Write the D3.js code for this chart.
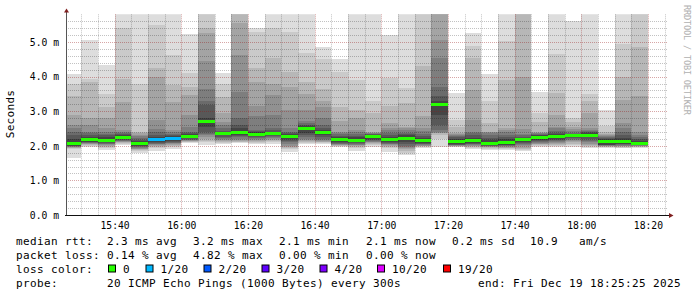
<!DOCTYPE html>
<html><head><meta charset="utf-8">
<script src="https://cdn.jsdelivr.net/npm/d3@7"></script>
<style>html,body{margin:0;padding:0;background:#fff}svg{display:block}</style>
</head><body><svg id="c" width="697" height="297"></svg>
<script>
// ---------- DATA ----------
const day = "2025-12-19";
const rangeStart = "15:25:25";
const rangeEnd = "18:25:25";
// 5-minute slots (start time of each slot)
const slots = ["15:25","15:30","15:35","15:40","15:45","15:50","15:55","16:00","16:05","16:10","16:15","16:20",
  "16:25","16:30","16:35","16:40","16:45","16:50","16:55","17:00","17:05","17:10","17:15","17:20",
  "17:25","17:30","17:35","17:40","17:45","17:50","17:55","18:00","18:05","18:10","18:15"];
// median rtt (ms) per slot
const medianRtt = [2.06,2.17,2.16,2.23,2.08,2.18,2.20,2.27,2.71,2.35,2.37,2.33,2.35,2.27,2.51,2.39,2.17,2.15,
  2.26,2.17,2.22,2.15,3.20,2.13,2.15,2.07,2.10,2.17,2.25,2.27,2.29,2.31,2.12,2.13,2.08];
// lost pings out of 20 per slot
const lostPings = [0,0,0,0,0,1,1,0,0,0,0,0,0,0,0,0,0,0,0,0,0,0,0,0,0,0,0,0,0,0,0,0,0,0,0];
// 20 sorted ping rtts (ms) per slot
const pings = [
  [1.66,1.9,1.93,1.95,1.96,1.97,1.98,1.99,2.0,2.02,2.1,2.2,2.3,2.4,2.5,2.6,2.9,3.45,3.8,4.07],
  [1.96,2.0,2.03,2.05,2.06,2.07,2.08,2.1,2.12,2.14,2.2,2.25,2.3,2.36,2.4,2.6,2.79,3.85,3.93,5.06],
  [1.88,1.95,1.97,2.0,2.03,2.05,2.06,2.08,2.1,2.12,2.2,2.25,2.3,2.35,2.4,2.5,2.8,3.13,3.5,4.34],
  [2.02,2.06,2.08,2.1,2.12,2.13,2.15,2.17,2.19,2.2,2.26,2.3,2.33,2.37,2.4,2.45,3.28,3.93,5.4,6.2],
  [1.8,1.85,1.88,1.9,1.92,1.94,1.96,1.98,2.0,2.05,2.11,2.14,2.18,2.22,2.27,2.32,2.36,2.41,3.78,6.0],
  [1.85,1.94,1.97,2.0,2.02,2.04,2.06,2.08,2.1,2.15,2.21,2.25,2.3,2.4,2.49,2.75,3.98,4.24,5.5,6.1],
  [1.9,1.97,2.0,2.03,2.05,2.07,2.09,2.11,2.13,2.17,2.23,2.27,2.3,2.35,2.4,2.46,3.28,3.76,4.62,6.1],
  [2.09,2.1,2.12,2.13,2.15,2.16,2.18,2.2,2.22,2.25,2.29,2.33,2.36,2.4,2.55,2.9,3.47,3.71,4.11,5.23],
  [2.02,2.1,2.15,2.2,2.25,2.3,2.35,2.4,2.55,2.68,2.74,2.79,3.18,3.3,3.63,4.45,5.25,5.4,6.2,6.5],
  [2.05,2.09,2.12,2.15,2.18,2.2,2.22,2.26,2.3,2.33,2.37,2.4,2.43,2.5,2.6,2.7,2.94,3.42,3.8,4.11],
  [2.07,2.1,2.12,2.15,2.18,2.2,2.24,2.27,2.3,2.34,2.4,2.5,2.6,2.79,3.56,4.62,5.56,6.0,6.2,6.5],
  [2.05,2.09,2.12,2.15,2.17,2.2,2.22,2.25,2.28,2.31,2.35,2.4,2.43,2.46,2.87,3.15,3.85,4.24,5.3,5.41],
  [2.06,2.1,2.14,2.17,2.2,2.22,2.24,2.27,2.3,2.33,2.37,2.41,2.45,2.5,2.89,3.47,3.8,4.53,5.4,6.5],
  [1.83,1.9,1.94,1.97,2.0,2.05,2.1,2.15,2.2,2.24,2.3,2.34,2.38,2.4,2.5,3.02,3.7,4.14,5.3,6.5],
  [2.04,2.07,2.1,2.14,2.17,2.2,2.25,2.3,2.38,2.48,2.54,2.58,2.6,2.65,2.73,3.03,3.51,3.85,4.67,6.0],
  [2.04,2.07,2.1,2.12,2.14,2.17,2.2,2.25,2.3,2.36,2.42,2.46,2.5,2.6,2.79,3.12,3.3,3.63,4.5,4.86],
  [1.97,1.99,2.0,2.02,2.03,2.04,2.06,2.08,2.1,2.14,2.2,2.24,2.28,2.33,2.37,2.41,2.73,3.11,4.14,4.51],
  [1.86,1.94,1.97,1.99,2.01,2.03,2.05,2.07,2.1,2.12,2.18,2.24,2.28,2.33,2.4,2.45,2.79,3.03,3.9,6.0],
  [1.97,2.01,2.04,2.07,2.1,2.12,2.14,2.17,2.2,2.23,2.29,2.31,2.33,2.35,2.36,2.37,2.39,2.96,3.29,6.0],
  [1.83,1.93,1.97,2.0,2.02,2.04,2.06,2.08,2.1,2.14,2.2,2.25,2.3,2.38,2.45,2.5,2.67,3.15,3.95,5.19],
  [1.73,1.8,1.85,1.9,1.93,1.97,2.0,2.05,2.1,2.18,2.26,2.3,2.34,2.38,2.45,2.5,2.55,3.25,3.66,6.0],
  [1.95,1.97,1.98,1.99,2.0,2.02,2.04,2.06,2.08,2.12,2.18,2.22,2.28,2.35,2.42,2.5,2.86,4.32,6.2,6.5],
  [1.97,2.2,2.3,2.36,2.38,2.4,2.45,2.6,2.9,3.18,3.22,3.3,3.45,3.71,4.53,5.06,6.2,6.5,6.8,7.0],
  [1.96,1.97,1.98,1.99,2.0,2.01,2.02,2.03,2.05,2.1,2.16,2.2,2.25,2.28,2.32,2.34,2.36,2.55,2.75,3.54],
  [1.9,1.94,1.96,1.98,2.0,2.02,2.04,2.06,2.08,2.12,2.18,2.22,2.3,2.36,2.41,2.75,3.6,4.55,4.88,5.25],
  [1.88,1.92,1.94,1.96,1.97,1.98,1.99,2.0,2.01,2.03,2.11,2.16,2.22,2.3,2.36,2.39,2.41,2.65,3.3,4.07],
  [1.88,1.91,1.93,1.95,1.97,1.99,2.0,2.01,2.03,2.06,2.14,2.2,2.26,2.32,2.4,2.45,2.5,3.9,5.03,6.5],
  [1.85,1.88,1.92,1.95,1.98,2.01,2.04,2.07,2.1,2.14,2.2,2.23,2.26,2.3,2.34,2.49,4.0,6.0,6.3,6.5],
  [1.97,2.0,2.02,2.04,2.06,2.08,2.1,2.13,2.16,2.22,2.28,2.3,2.32,2.34,2.36,2.38,2.4,2.7,2.96,3.56],
  [1.97,2.0,2.02,2.04,2.07,2.1,2.13,2.16,2.2,2.24,2.3,2.34,2.38,2.42,2.5,2.55,2.9,3.54,4.64,6.0],
  [1.97,2.02,2.06,2.1,2.14,2.17,2.2,2.22,2.25,2.27,2.31,2.33,2.35,2.38,2.42,2.48,2.55,2.7,2.79,5.6],
  [1.93,1.97,2.0,2.03,2.06,2.1,2.15,2.2,2.24,2.28,2.34,2.37,2.4,2.43,2.46,2.5,2.94,3.3,3.49,6.0],
  [1.95,1.96,1.97,1.98,1.99,2.0,2.01,2.02,2.03,2.08,2.16,2.2,2.23,2.26,2.29,2.31,2.33,2.4,2.57,3.03],
  [1.93,1.94,1.96,1.98,1.99,2.0,2.02,2.04,2.06,2.09,2.17,2.22,2.3,2.4,2.5,2.65,3.32,4.0,4.93,6.0],
  [1.95,1.96,1.97,1.98,1.99,2.0,2.01,2.02,2.03,2.05,2.11,2.15,2.2,2.25,2.3,2.41,3.44,4.86,6.2,6.5]
];
const yTicks = [0,1,2,3,4,5];
const yTickLabels = ["0.0 m","1.0 m","2.0 m","3.0 m","4.0 m","5.0 m"];
const xTickLabels = ["15:40","16:00","16:20","16:40","17:00","17:20","17:40","18:00","18:20"];
const yAxisTitle = "Seconds";
const watermark = "RRDTOOL / TOBI OETIKER";
const lossThresholds = [0,1,2,3,4,10,19];
const lossLabels = ["0","1/20","2/20","3/20","4/20","10/20","19/20"];
const lossColors = ["#26ff00","#00b8ff","#0059ff","#5e00ff","#7e00ff","#dd00ff","#ff0000"];
const legendRtt = ["median rtt:","2.3 ms avg","3.2 ms max","2.1 ms min","2.1 ms now","0.2 ms sd","10.9","am/s"];
const legendLoss = ["packet loss:","0.14 % avg","4.82 % max","0.00 % min","0.00 % now"];
const legendColorTitle = "loss color:";
const legendProbe = ["probe:","20 ICMP Echo Pings (1000 Bytes) every 300s","end: Fri Dec 19 18:25:25 2025"];

// ---------- LAYOUT ----------
const svg = d3.select("#c");
const P = {left:66, right:666, top:14.3, bottom:215};
const parse = d3.timeParse("%Y-%m-%d %H:%M:%S");
const parseHM = s => parse(day + " " + s + ":00");
const x = d3.scaleTime().domain([parse(day+" "+rangeStart), parse(day+" "+rangeEnd)]).range([P.left, P.right]);
const y = d3.scaleLinear().domain([0,5.8]).range([P.bottom, P.top]);
const MONO = "'DejaVu Sans Mono', monospace";

svg.append("rect").attr("width",697).attr("height",297).attr("fill","#fff");
svg.append("defs").append("clipPath").attr("id","pc").append("rect")
  .attr("x",P.left).attr("y",P.top).attr("width",P.right-P.left).attr("height",P.bottom-P.top);

const plotG = svg.append("g").attr("clip-path","url(#pc)");

// smoke
const smokeG = plotG.append("g").attr("shape-rendering","crispEdges");
slots.forEach((s,i)=>{
  const t0 = parseHM(s), t1 = d3.timeMinute.offset(t0,5);
  const vals = pings[i].slice().sort(d3.ascending);
  const n = vals.length, half = n/2;
  for (let b=1; b<=Math.floor(half); b++){
    const c = Math.floor(190/half*(half-b))+50;
    const lo = vals[b-1], hi = vals[n-b];
    smokeG.append("rect")
      .attr("x",x(t0)).attr("width",x(t1)-x(t0))
      .attr("y",y(hi)).attr("height",Math.max(0,y(lo)-y(hi)))
      .attr("fill",d3.rgb(c,c,c));
  }
});

// grid (drawn over smoke)
const gridG = svg.append("g");
const minorY = d3.range(1,29).map(k=>k*0.2).filter(v=>Math.abs(v-Math.round(v))>1e-6);
gridG.selectAll(".hy").data(minorY).join("line")
  .attr("x1",P.left).attr("x2",P.right+2).attr("y1",d=>Math.round(y(d))+0.5).attr("y2",d=>Math.round(y(d))+0.5)
  .attr("stroke","rgba(0,0,0,0.24)").attr("stroke-dasharray","1,1");
const minorX = d3.timeMinute.every(5).range(x.domain()[0], x.domain()[1]).filter(d=>d.getMinutes()%20!==0);
gridG.selectAll(".vx").data(minorX).join("line")
  .attr("x1",d=>Math.round(x(d))+0.5).attr("x2",d=>Math.round(x(d))+0.5).attr("y1",P.top).attr("y2",P.bottom)
  .attr("stroke","rgba(0,0,0,0.24)").attr("stroke-dasharray","1,1");
gridG.selectAll(".hM").data(yTicks.slice(1)).join("line")
  .attr("x1",P.left).attr("x2",P.right+2).attr("y1",d=>Math.round(y(d))+0.5).attr("y2",d=>Math.round(y(d))+0.5)
  .attr("stroke","rgba(150,20,20,0.38)").attr("stroke-dasharray","1,1");
const majorX = xTickLabels.map(parseHM);
gridG.selectAll(".vM").data(majorX).join("line")
  .attr("x1",d=>Math.round(x(d))+0.5).attr("x2",d=>Math.round(x(d))+0.5).attr("y1",P.top).attr("y2",P.bottom)
  .attr("stroke","rgba(150,20,20,0.38)").attr("stroke-dasharray","1,1");

// median marks
const medG = svg.append("g").attr("clip-path","url(#pc)").attr("shape-rendering","crispEdges");
slots.forEach((s,i)=>{
  const t0 = parseHM(s), t1 = d3.timeMinute.offset(t0,5);
  let ci = 0; lossThresholds.forEach((th,k)=>{ if (lostPings[i] >= th) ci = k; });
  medG.append("rect").attr("x",x(t0)).attr("width",x(t1)-x(t0))
    .attr("y",y(medianRtt[i])-1.5).attr("height",3).attr("fill",lossColors[ci]);
});

// axes
const yAxis = d3.axisLeft(y).tickValues(yTicks).tickFormat((d,i)=>yTickLabels[i]).tickSize(0).tickPadding(7);
const ya = svg.append("g").attr("transform",`translate(${P.left},0)`).call(yAxis);
ya.select(".domain").remove();
ya.selectAll("text").attr("font-family",MONO).attr("font-size","9.7px").attr("fill","#000").attr("dy","0.35em");
const xAxis = d3.axisBottom(x).tickValues(majorX).tickFormat((d,i)=>xTickLabels[i]).tickSize(0).tickPadding(7);
const xa = svg.append("g").attr("transform",`translate(0,${P.bottom})`).call(xAxis);
xa.select(".domain").remove();
xa.selectAll("text").attr("font-family",MONO).attr("font-size","9.7px").attr("fill","#000").attr("dy","0.71em");

svg.append("line").attr("x1",P.left+0.5).attr("x2",P.left+0.5).attr("y1",P.bottom).attr("y2",11)
  .attr("stroke","#555").attr("stroke-width",1);
svg.append("line").attr("x1",P.left-1).attr("x2",670).attr("y1",P.bottom+0.5).attr("y2",P.bottom+0.5)
  .attr("stroke","#111").attr("stroke-width",1);
svg.append("path").attr("d",`M${P.left-2},12.5 L${P.left+0.5},8.5 L${P.left+3},12.5 Z`).attr("fill","#7f1f1f");
svg.append("path").attr("d",`M669,${P.bottom-2} L673.5,${P.bottom+0.5} L669,${P.bottom+3} Z`).attr("fill","#7f1f1f");

// titles
svg.append("text").attr("transform","translate(14,114) rotate(-90)").attr("text-anchor","middle")
  .attr("font-family",MONO).attr("font-size","11px").attr("letter-spacing","0.3px").text(yAxisTitle);
svg.append("text").attr("transform","translate(684,5) rotate(90)").attr("text-anchor","start")
  .attr("font-family",MONO).attr("font-size","8.6px").attr("fill","#b0b0b0")
  .attr("textLength",110).attr("lengthAdjust","spacing").text(watermark);

// legend
const LF = {"font-family":MONO,"font-size":"11px","letter-spacing":"0.38px","fill":"#000"};
function txt(t,xx,yy){ const e=svg.append("text").attr("x",xx).attr("y",yy).text(t); Object.entries(LF).forEach(([k,v])=>e.attr(k,v)); return e; }
const rowY = [244.5,258.5,272.5,286.5];
const rttX = [16,107,193,279,366,452,530,579];
legendRtt.forEach((t,i)=>txt(t,rttX[i],rowY[0]));
const lossX = [16,107,193,279,366];
legendLoss.forEach((t,i)=>txt(t,lossX[i],rowY[1]));
txt(legendColorTitle,16,rowY[2]);
const swX = [108,145.5,203.5,261.5,319.5,377,443];
lossLabels.forEach((t,i)=>{
  svg.append("rect").attr("x",swX[i]+0.5).attr("y",rowY[2]-7.5).attr("width",7).attr("height",7)
    .attr("fill",lossColors[i]).attr("stroke","#000").attr("stroke-width",1);
  txt(t,swX[i]+15,rowY[2]);
});
const probeX = [16,107,478];
legendProbe.forEach((t,i)=>txt(t,probeX[i],rowY[3]));
</script></body></html>
